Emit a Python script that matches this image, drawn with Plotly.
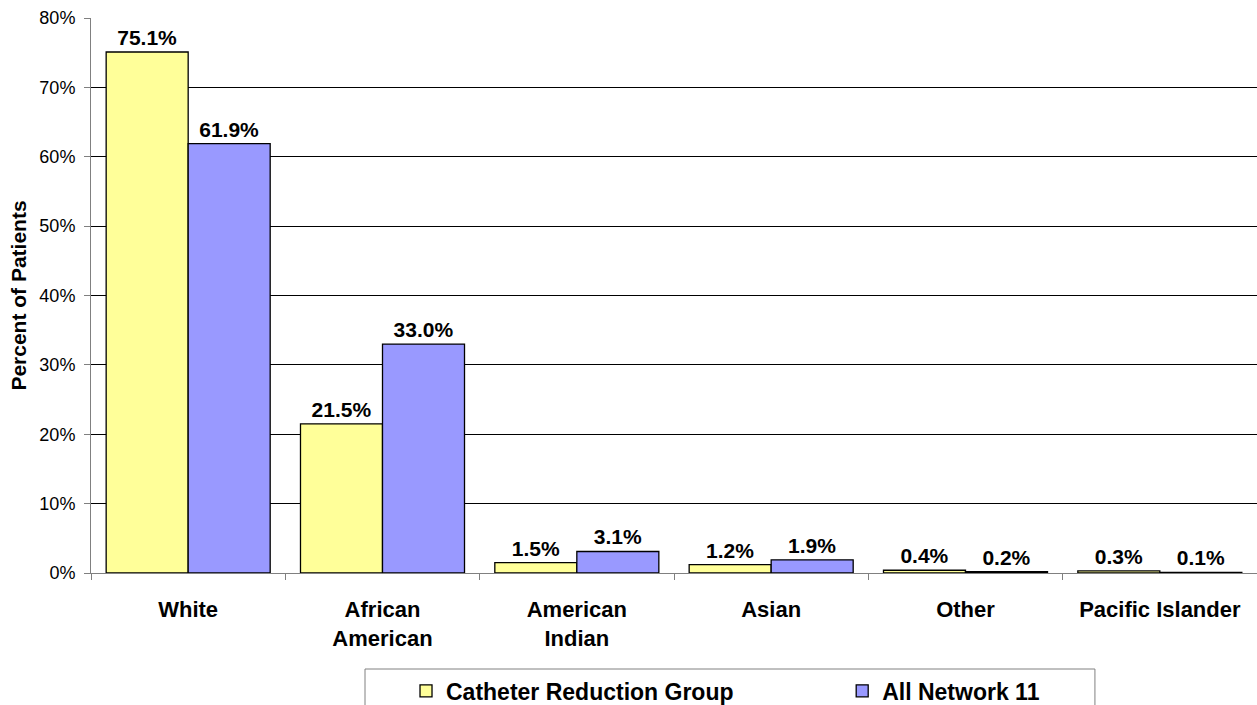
import plotly.graph_objects as go

categories = ["White", "African<br>American", "American<br>Indian", "Asian", "Other", "Pacific Islander"]
catheter_group = [75.1, 21.5, 1.5, 1.2, 0.4, 0.3]
all_network = [61.9, 33.0, 3.1, 1.9, 0.2, 0.1]
y_ticks = [0, 10, 20, 30, 40, 50, 60, 70, 80]
y_tick_labels = [f"{v}%" for v in y_ticks]

FONT = "Arial, Liberation Sans, sans-serif"
LEGEND_FONT = dict(family=FONT, size=23, color="black", weight="bold")

fig = go.Figure()
fig.add_trace(go.Bar(
    name="Catheter Reduction Group", x=categories, y=catheter_group,
    marker=dict(color="#FFFF99", line=dict(color="black", width=1.3)),
    text=[f"{v:.1f}%" for v in catheter_group], textposition="outside",
    textfont=dict(family=FONT, size=21, color="black", weight="bold"),
    constraintext="none", cliponaxis=False, legend="legend",
))
fig.add_trace(go.Bar(
    name="All Network 11", x=categories, y=all_network,
    marker=dict(color="#9999FF", line=dict(color="black", width=1.3)),
    text=[f"{v:.1f}%" for v in all_network], textposition="outside",
    textfont=dict(family=FONT, size=21, color="black", weight="bold"),
    constraintext="none", cliponaxis=False, legend="legend2",
))

# legend frame
fig.add_shape(type="rect", xref="paper", yref="paper",
              x0=0.235, x1=0.861, y0=-0.173, y1=-0.32,
              line=dict(color="#808080", width=1), fillcolor="rgba(0,0,0,0)")

fig.update_layout(
    width=1257, height=705,
    margin=dict(l=91, r=0, t=18, b=132),
    paper_bgcolor="white", plot_bgcolor="white",
    barmode="group", bargap=0.156, bargroupgap=0,
    font=dict(family=FONT, color="black"),
    showlegend=True,
    legend=dict(
        orientation="h", xref="container", yref="container",
        x=0.323, xanchor="left", y=0.02, yanchor="middle",
        borderwidth=0, bgcolor="rgba(0,0,0,0)", font=LEGEND_FONT,
    ),
    legend2=dict(
        orientation="h", xref="container", yref="container",
        x=0.67, xanchor="left", y=0.02, yanchor="middle",
        borderwidth=0, bgcolor="rgba(0,0,0,0)", font=LEGEND_FONT,
    ),
    xaxis=dict(
        showline=True, linecolor="#808080", linewidth=1,
        ticks="outside", tickson="boundaries", ticklen=6, tickcolor="#808080",
        tickfont=dict(family=FONT, size=22, color="black", weight="bold"),
        ticklabelstandoff=17, showgrid=False,
    ),
    yaxis=dict(
        range=[0, 80], tickvals=y_ticks, ticktext=y_tick_labels,
        showline=True, linecolor="#808080", linewidth=1,
        ticks="outside", ticklen=6, tickcolor="#808080",
        tickfont=dict(family=FONT, size=18, color="black"),
        ticklabelstandoff=5,
        showgrid=True, gridcolor="black", gridwidth=1,
        zeroline=False,
        title=dict(text="Percent of Patients", standoff=7,
                   font=dict(family=FONT, size=21, color="black", weight="bold")),
    ),
)

fig.write_html("out.html")
